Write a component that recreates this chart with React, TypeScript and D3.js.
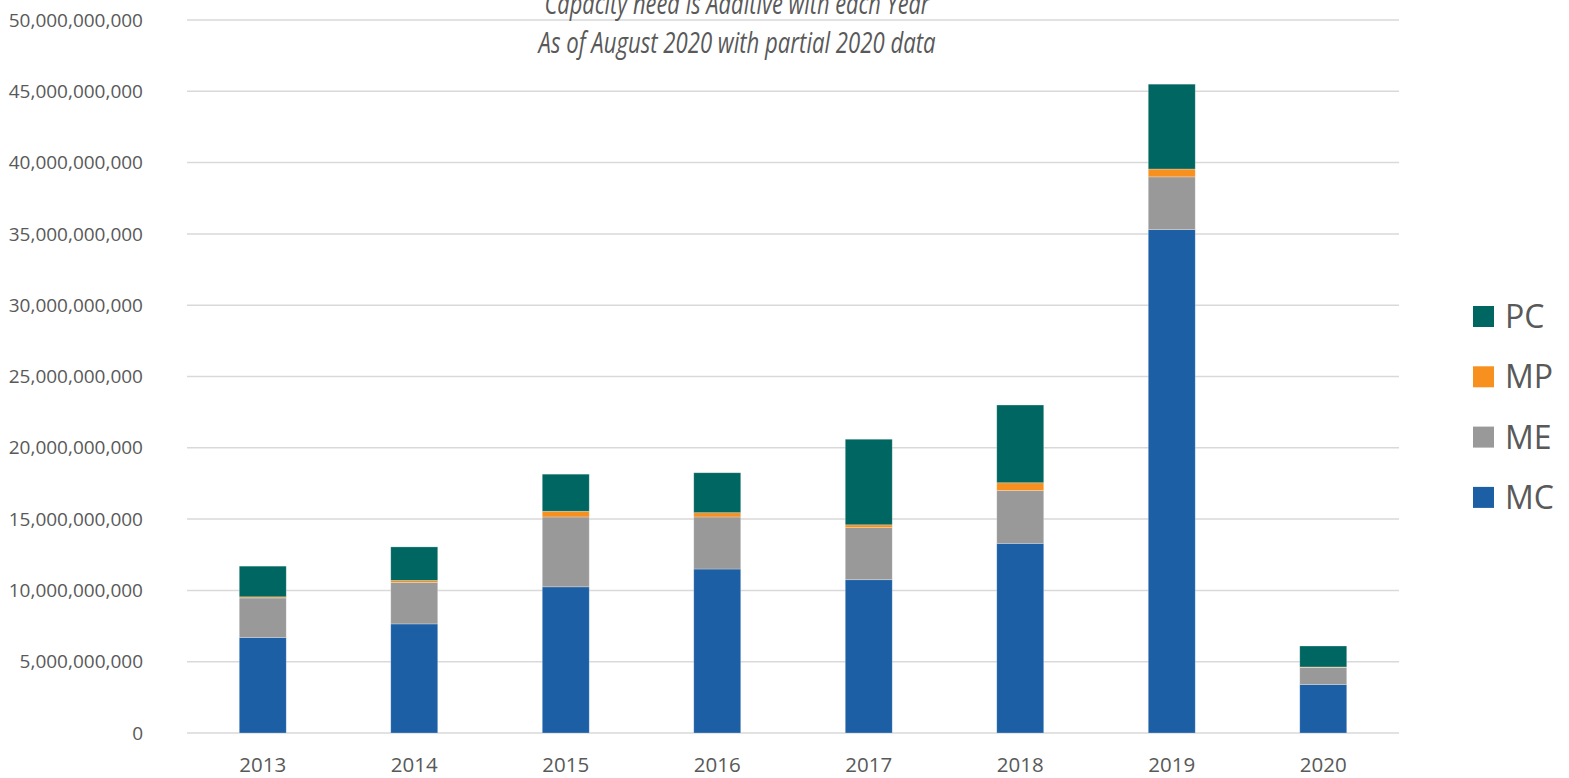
import React, { useEffect, useRef } from 'react';
import * as d3 from 'd3';

// years on the x axis
const years = ['2013', '2014', '2015', '2016', '2017', '2018', '2019', '2020'];

// stacked series, bottom to top
const MC = [6.7e9, 7.65e9, 10.25e9, 11.5e9, 10.75e9, 13.3e9, 35.3e9, 3.4e9];
const ME = [2.77e9, 2.9e9, 4.9e9, 3.65e9, 3.65e9, 3.7e9, 3.7e9, 1.2e9];
const MP = [0.08e9, 0.15e9, 0.4e9, 0.3e9, 0.2e9, 0.55e9, 0.55e9, 0.03e9];
const PC = [2.15e9, 2.35e9, 2.6e9, 2.8e9, 6.0e9, 5.45e9, 5.95e9, 1.47e9];

const seriesNames = ['MC', 'ME', 'MP', 'PC'];
const seriesColors = ['#1C5FA4', '#999999', '#F7901E', '#006661'];

const titleLines = ['Capacity need is Additive with each Year', 'As of August 2020 with partial 2020 data'];

const yTicks = [0, 5e9, 10e9, 15e9, 20e9, 25e9, 30e9, 35e9, 40e9, 45e9, 50e9];

const App = () => {
  const ref = useRef<SVGSVGElement>(null);

  useEffect(() => {
    const width = 1569;
    const height = 778;
    const font = "'Open Sans', sans-serif";
    const textColor = '#595959';

    const svg = d3.select(ref.current);
    svg.selectAll('*').remove();
    svg.attr('width', width).attr('height', height);

    const table = years.map((y, i) => ({ year: y, MC: MC[i], ME: ME[i], MP: MP[i], PC: PC[i] }));

    // scales
    const x = d3.scaleBand().domain(years).range([187, 1399]);
    const y = d3.scaleLinear().domain([0, 50e9]).range([733, 20]);

    // gridlines
    svg.append('g')
      .selectAll('line')
      .data(yTicks)
      .join('line')
      .attr('x1', 187)
      .attr('x2', 1399)
      .attr('y1', d => y(d))
      .attr('y2', d => y(d))
      .attr('stroke', '#D9D9D9')
      .attr('stroke-width', 1.5);

    // y tick labels
    svg.append('g')
      .selectAll('text')
      .data(yTicks)
      .join('text')
      .attr('x', 143)
      .attr('y', d => y(d))
      .attr('dy', '0.35em')
      .attr('text-anchor', 'end')
      .attr('font-family', font)
      .attr('font-size', 19)
      .attr('fill', textColor)
      .text(d => d3.format(',')(d));

    // bars
    const stack = d3.stack<any>().keys(seriesNames);
    const stacked = stack(table);
    const barW = x.bandwidth() * 0.31;

    svg.append('g')
      .selectAll('g')
      .data(stacked)
      .join('g')
      .attr('fill', (d, i) => seriesColors[i])
      .selectAll('rect')
      .data(d => d)
      .join('rect')
      .attr('x', d => (x(d.data.year) as number) + (x.bandwidth() - barW) / 2)
      .attr('y', d => y(d[1]))
      .attr('width', barW)
      .attr('height', d => y(d[0]) - y(d[1]))
      .attr('stroke', '#ffffff')
      .attr('stroke-opacity', 0.35)
      .attr('stroke-width', 0.75);

    // x labels
    svg.append('g')
      .selectAll('text')
      .data(years)
      .join('text')
      .attr('x', d => (x(d) as number) + x.bandwidth() / 2)
      .attr('y', 772)
      .attr('text-anchor', 'middle')
      .attr('font-family', font)
      .attr('font-size', 20.5)
      .attr('fill', textColor)
      .text(d => d);

    // title
    svg.append('g')
      .selectAll('text')
      .data(titleLines)
      .join('text')
      .attr('x', 737)
      .attr('y', (d, i) => 14 + i * 39)
      .attr('text-anchor', 'middle')
      .attr('font-family', font)
      .attr('font-style', 'italic')
      .attr('font-size', 29)
      .attr('fill', textColor)
      .attr('textLength', (d, i) => (i === 0 ? 385 : 397))
      .attr('lengthAdjust', 'spacingAndGlyphs')
      .text(d => d);

    // legend, top to bottom reversed
    const legendOrder = [3, 2, 1, 0];
    const legend = svg.append('g')
      .selectAll('g')
      .data(legendOrder)
      .join('g')
      .attr('transform', (d, i) => 'translate(1473,' + (306 + i * 60.3) + ')');

    legend.append('rect')
      .attr('width', 21)
      .attr('height', 21)
      .attr('fill', d => seriesColors[d]);

    legend.append('text')
      .attr('x', 32)
      .attr('y', 10.5)
      .attr('dy', '0.36em')
      .attr('font-family', font)
      .attr('font-size', 32)
      .attr('fill', textColor)
      .text(d => seriesNames[d]);
  }, []);

  return (
    <svg ref={ref} style={{ position: 'absolute', left: 0, top: 0, background: '#ffffff' }} />
  );
};

export default App;
